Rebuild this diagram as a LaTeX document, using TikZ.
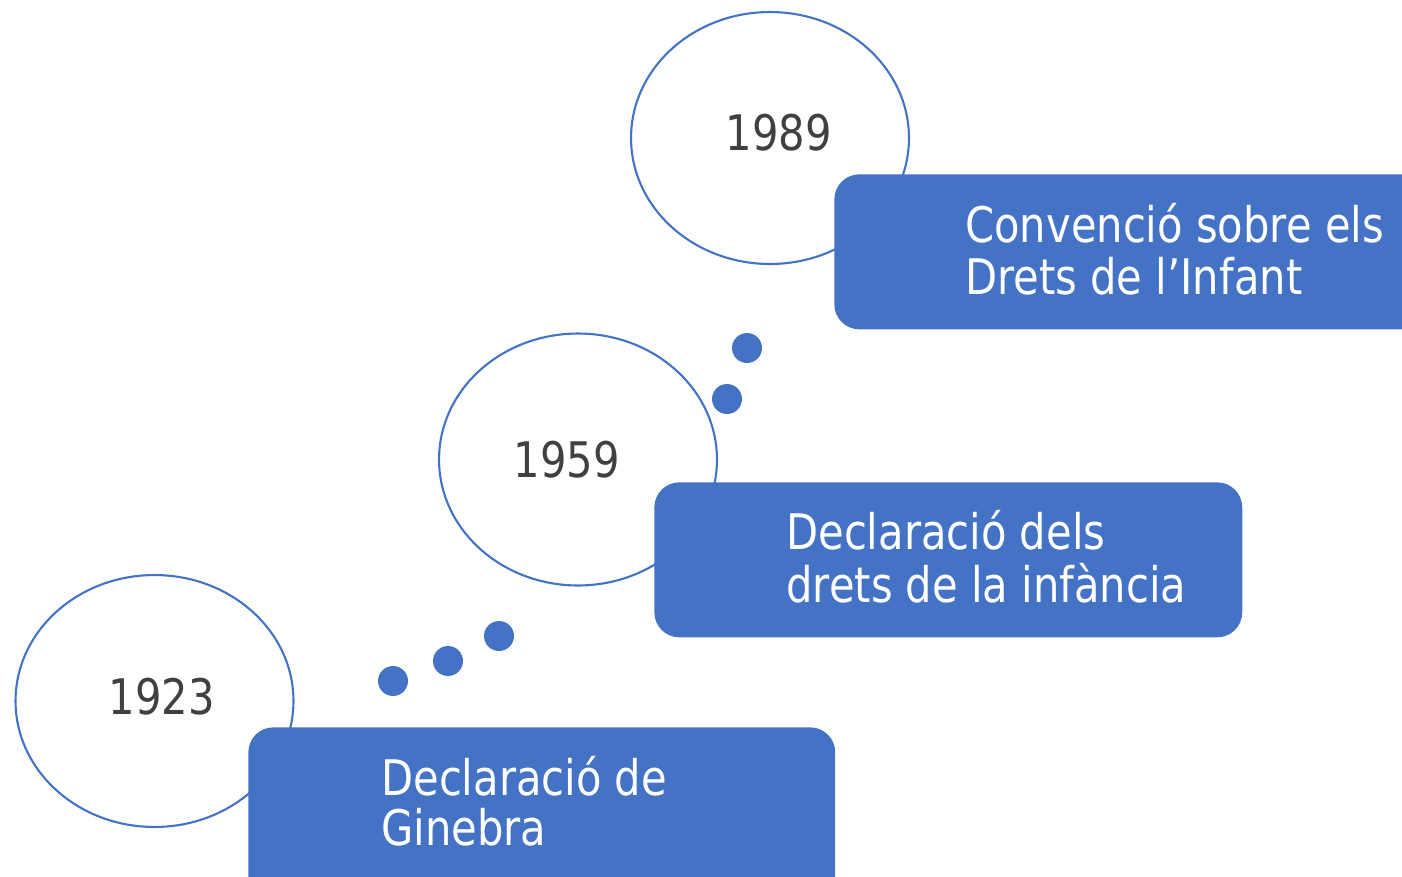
\documentclass[tikz,border=0pt]{standalone}
\usepackage{fontspec}
\usetikzlibrary{shapes.geometric}
\setmainfont{DejaVu Sans}[FakeStretch=0.85]
\definecolor{accent}{HTML}{4472C4}
\definecolor{yeartext}{HTML}{404040}
\begin{document}
\begin{tikzpicture}[x=0.02cm,y=-0.02cm,
  yearring/.style={draw=accent,line width=1.2pt,fill=white,ellipse,inner sep=0,
    minimum width=5.56cm,minimum height=5.04cm},
  eventbox/.style={fill=accent,rounded corners=0.5cm,inner sep=0,anchor=north west,
    minimum height=3.1cm},
  eventtext/.style={text=white,anchor=base west,inner sep=0,font=\fontsize{27.9}{30}\selectfont},
  yeartag/.style={text=yeartext,inner sep=0,font=\fontsize{27.9}{30}\selectfont},
  dotmark/.style={circle,fill=accent,inner sep=0,minimum size=0.6cm}]
\useasboundingbox (0,0) rectangle (1402,876);
\clip (0,0) rectangle (1402,876);
% rings
\node[yearring] (r1989) at (770,138) {};
\node[yearring] (r1959) at (578,459.5) {};
\node[yearring] (r1923) at (154.5,701) {};
\node[yeartag] (y1989) at (779,133) {1989};
\node[yeartag] (y1959) at (567,460) {1959};
\node[yeartag] (y1923) at (162,697) {1923};
% boxes
\node[eventbox,minimum width=12.2cm] (b1) at (834,174) {};
\node[eventbox,minimum width=11.76cm] (b2) at (654,482) {};
\node[eventbox,minimum width=11.74cm,minimum height=3.7cm] (b3) at (248,727) {};
\node[eventtext] (t1a) at (965,242) {Convenció sobre els};
\node[eventtext] (t1b) at (965,294) {Drets de l’Infant};
\node[eventtext] (t2a) at (786,549) {Declaració dels};
\node[eventtext] (t2b) at (786,602) {drets de la infància};
\node[eventtext] (t3a) at (381,795) {Declaració de};
\node[eventtext] (t3b) at (381,845) {Ginebra};
% dots
\node[dotmark] (d1) at (747,348) {};
\node[dotmark] (d2) at (727,399) {};
\node[dotmark] (d3) at (499,636) {};
\node[dotmark] (d4) at (448,661) {};
\node[dotmark] (d5) at (393,681) {};
\end{tikzpicture}
\end{document}
